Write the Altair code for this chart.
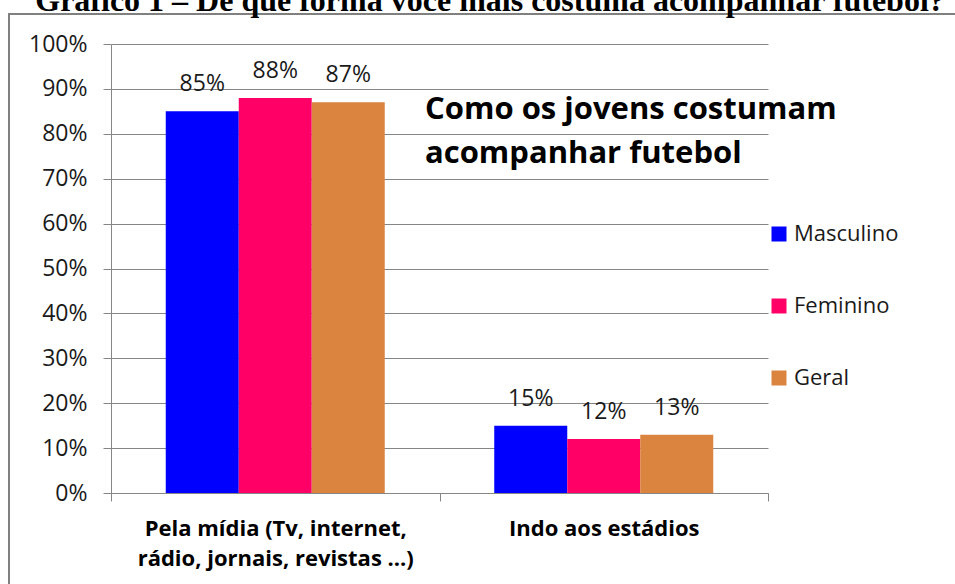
import altair as alt
import pandas as pd

categories = ["Pela mídia (Tv, internet,\nrádio, jornais, revistas ...)", "Indo aos estádios"]
series = ["Masculino", "Feminino", "Geral"]
masculino = [0.85, 0.15]
feminino = [0.88, 0.12]
geral = [0.87, 0.13]
colors = ["#0000FF", "#FF0066", "#DA8440"]
y_ticks = [0.0, 0.1, 0.2, 0.3, 0.4, 0.5, 0.6, 0.7, 0.8, 0.9, 1.0]
page_title = "Gráfico 1 – De que forma você mais costuma acompanhar futebol?"
inner_title = ["Como os jovens costumam", "acompanhar futebol"]

rows = []
for i, cat in enumerate(categories):
    for name, vals in zip(series, [masculino, feminino, geral]):
        rows.append({"categoria": cat, "grupo": name, "valor": vals[i]})
df = pd.DataFrame(rows)

GRAY = "#868686"
TXT = "#1a1a1a"

x_enc = alt.X(
    "categoria:N", sort=categories, title=None,
    scale=alt.Scale(paddingInner=0, paddingOuter=0),
    axis=alt.Axis(
        labelExpr="split(datum.label, '\\n')", labelFont="Open Sans",
        labelFontWeight="bold", labelFontSize=22, labelColor="#000",
        labelLineHeight=30, labelPadding=17, labelAngle=0, labelLimit=500,
        tickBand="extent", tickSize=8, tickColor=GRAY, domainColor=GRAY,
        grid=False,
    ),
)
xo_enc = alt.XOffset("grupo:N", sort=series,
                     scale=alt.Scale(paddingInner=0, paddingOuter=0.75))
y_enc = alt.Y(
    "valor:Q", title=None, scale=alt.Scale(domain=[0, 1]),
    axis=alt.Axis(
        values=y_ticks, format=".0%", labelFont="Open Sans", labelFontSize=23,
        labelColor=TXT, labelPadding=16, tickSize=8, tickColor=GRAY,
        domainColor=GRAY, gridColor=GRAY, grid=True,
    ),
)

base = alt.Chart(df)

bars = base.mark_bar().encode(
    x=x_enc, xOffset=xo_enc, y=y_enc,
    color=alt.Color(
        "grupo:N", sort=series,
        scale=alt.Scale(domain=series, range=colors),
        legend=alt.Legend(
            title=None, orient="none", legendX=657, legendY=179,
            symbolType="square", symbolSize=225, symbolStrokeWidth=0,
            symbolOpacity=1, labelFont="Open Sans", labelFontSize=22,
            labelColor=TXT, rowPadding=50, labelOffset=4, padding=0,
            offset=0,
        ),
    ),
)

labels = base.mark_text(
    dy=-20, baseline="alphabetic", fontSize=23, font="Open Sans", color=TXT
).encode(
    x=x_enc, xOffset=xo_enc, y=y_enc,
    text=alt.Text("valor:Q", format=".0%"),
)

one = pd.DataFrame({"t": [0]})

border = alt.Chart(one).mark_rect(
    fill="transparent", stroke="#808080", strokeWidth=2
).encode(
    x=alt.value(-102), x2=alt.value(870), y=alt.value(-30), y2=alt.value(570)
)

inner = alt.Chart(one).mark_text(
    text=inner_title, align="left", baseline="alphabetic", font="Open Sans",
    fontWeight="bold", fontSize=31, lineHeight=44, color="#000"
).encode(x=alt.value(314), y=alt.value(75))

top = alt.Chart(one).mark_text(
    text=page_title, align="center", baseline="alphabetic",
    font="Liberation Serif", fontWeight="bold", fontSize=32, color="#000"
).encode(x=alt.value(379), y=alt.value(-33))

chart = alt.layer(border, bars, labels, inner, top).properties(
    width=657, height=449,
    autosize=alt.AutoSizeParams(type="none"),
    padding={"left": 111, "top": 44, "right": 187, "bottom": 91},
    background="white",
).configure_view(stroke="transparent")

chart.save("out.html", embed_options={"renderer": "svg", "actions": False})
